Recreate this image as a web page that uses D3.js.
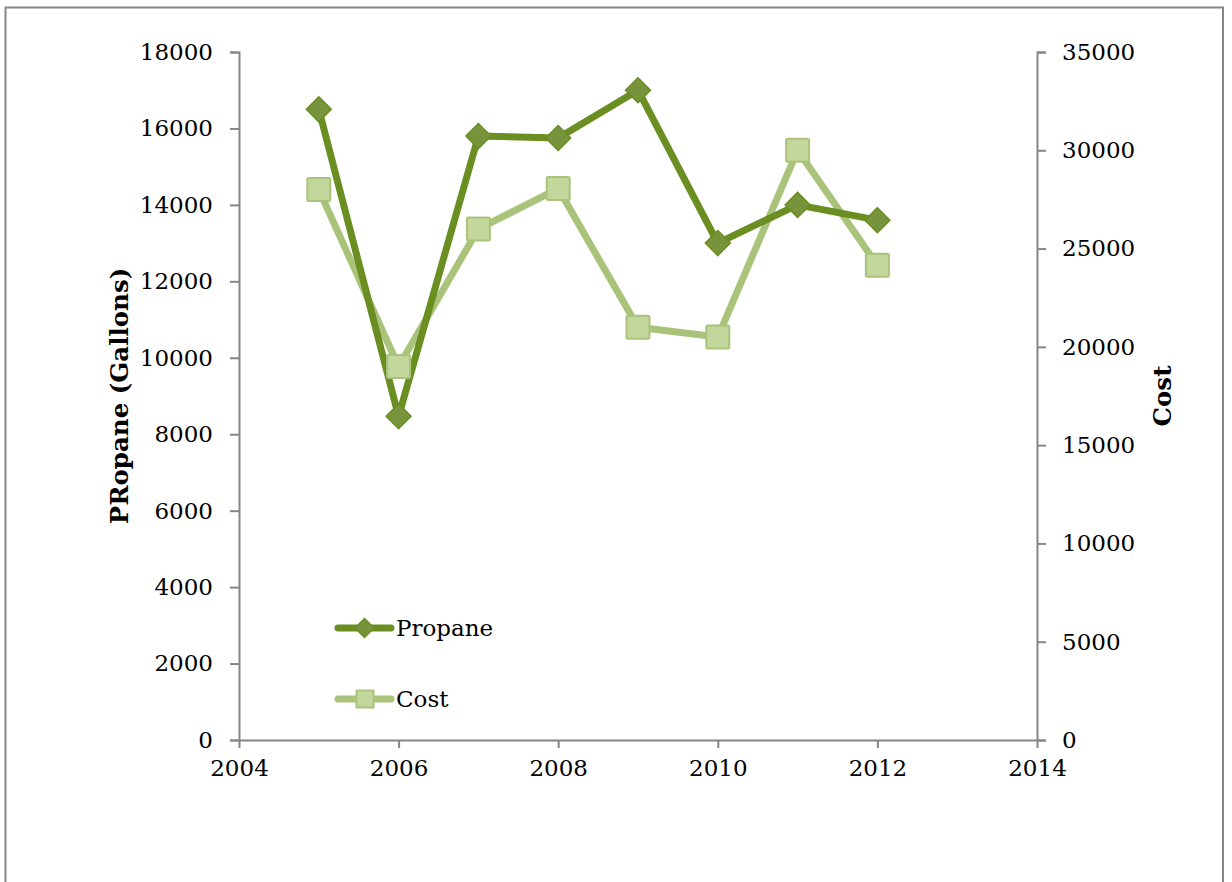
<!DOCTYPE html>
<html><head><meta charset="utf-8">
<script src="https://cdn.jsdelivr.net/npm/d3@7"></script>
<style>
body{margin:0;background:#fff;}
svg{display:block;}
text{font-family:"DejaVu Serif",serif;fill:#000;}
</style></head>
<body>
<svg id="c" width="1232" height="882"></svg>
<script>
const years = [2005, 2006, 2007, 2008, 2009, 2010, 2011, 2012];
const propane = [16500, 8470, 15800, 15750, 17000, 13000, 14000, 13600];
const cost = [28000, 19000, 26000, 28050, 21000, 20500, 30000, 24150];
const xTicks = [2004, 2006, 2008, 2010, 2012, 2014];
const leftTicks = [0, 2000, 4000, 6000, 8000, 10000, 12000, 14000, 16000, 18000];
const rightTicks = [0, 5000, 10000, 15000, 20000, 25000, 30000, 35000];
const leftTitle = "PRopane (Gallons)";
const rightTitle = "Cost";
const seriesNames = ["Propane", "Cost"];

const svg = d3.select("#c");
const L = 239, R = 1037, T = 52, B = 740;
const axisColor = "#868686";
const propColor = "#6b8e23", propFill = "#77933c";
const costColor = "#a9c47a", costFill = "#c3d69b";

// outer frame
svg.append("rect").attr("x", 5.5).attr("y", 7.5).attr("width", 1217.5).attr("height", 900)
  .attr("fill", "none").attr("stroke", axisColor).attr("stroke-width", 2);

const x = d3.scaleLinear().domain([2004, 2014]).range([L, R]);
const yL = d3.scaleLinear().domain([0, 18000]).range([B, T]);
const yR = d3.scaleLinear().domain([0, 35000]).range([B, T]);

const fs = 23;
function styleAxis(g){
  g.select(".domain").attr("stroke", axisColor).attr("stroke-width", 2);
  g.selectAll(".tick line").attr("stroke", axisColor).attr("stroke-width", 2);
  g.selectAll(".tick text").attr("font-size", fs).attr("font-family", "DejaVu Serif").attr("fill", "#000");
}
const gl = svg.append("g").attr("transform", `translate(${L},0)`)
  .call(d3.axisLeft(yL).tickValues(leftTicks).tickFormat(d3.format("d")).tickSize(9).tickSizeOuter(9).tickPadding(17));
styleAxis(gl);
const gr = svg.append("g").attr("transform", `translate(${R},0)`)
  .call(d3.axisRight(yR).tickValues(rightTicks).tickFormat(d3.format("d")).tickSize(9).tickSizeOuter(9).tickPadding(16));
styleAxis(gr);
const gx = svg.append("g").attr("transform", `translate(0,${B})`)
  .call(d3.axisBottom(x).tickValues(xTicks).tickFormat(d3.format("d")).tickSize(8).tickSizeOuter(0).tickPadding(12));
styleAxis(gx);

// titles
svg.append("text").attr("transform", `translate(128,${(T+B)/2}) rotate(-90)`)
  .attr("text-anchor", "middle").attr("font-size", 24.5).attr("font-weight", "bold").text(leftTitle);
svg.append("text").attr("transform", `translate(1171,${(T+B)/2}) rotate(-90)`)
  .attr("text-anchor", "middle").attr("font-size", 24.5).attr("font-weight", "bold").text(rightTitle);

const lineL = d3.line().x((d,i) => x(years[i])).y(d => yL(d));
const lineR = d3.line().x((d,i) => x(years[i])).y(d => yR(d));

svg.append("path").datum(cost).attr("d", lineR).attr("fill", "none")
  .attr("stroke", costColor).attr("stroke-width", 7).attr("stroke-linejoin", "round");
svg.append("path").datum(propane).attr("d", lineL).attr("fill", "none")
  .attr("stroke", propColor).attr("stroke-width", 7).attr("stroke-linejoin", "round");

const diamond = s => `M0,${-s}L${s},0L0,${s}L${-s},0Z`;
svg.append("g").selectAll("rect").data(cost).join("rect")
  .attr("x", (d,i) => x(years[i]) - 11.5).attr("y", d => yR(d) - 11.5)
  .attr("width", 23).attr("height", 23).attr("rx", 1.5)
  .attr("fill", costFill).attr("stroke", costColor).attr("stroke-width", 2);
svg.append("g").selectAll("path").data(propane).join("path")
  .attr("transform", (d,i) => `translate(${x(years[i])},${yL(d)})`)
  .attr("d", diamond(12.5)).attr("fill", propFill).attr("stroke", propColor).attr("stroke-width", 1.5);

// legend
const lg = svg.append("g");
const legendItems = [
  {name: seriesNames[0], y: 628, color: propColor, fill: propFill, shape: "diamond"},
  {name: seriesNames[1], y: 699, color: costColor, fill: costFill, shape: "square"}
];
legendItems.forEach(it => {
  lg.append("line").attr("x1", 338).attr("x2", 391).attr("y1", it.y).attr("y2", it.y)
    .attr("stroke", it.color).attr("stroke-width", 7).attr("stroke-linecap", "round");
  if (it.shape === "diamond") {
    lg.append("path").attr("transform", `translate(364.5,${it.y})`).attr("d", diamond(9.5))
      .attr("fill", it.fill).attr("stroke", it.color).attr("stroke-width", 1.5);
  } else {
    lg.append("rect").attr("x", 356.5).attr("y", it.y - 8.5).attr("width", 17).attr("height", 17)
      .attr("fill", it.fill).attr("stroke", it.color).attr("stroke-width", 2);
  }
  lg.append("text").attr("x", 396).attr("y", it.y + 8).attr("font-size", fs).text(it.name);
});
</script>
</body></html>
